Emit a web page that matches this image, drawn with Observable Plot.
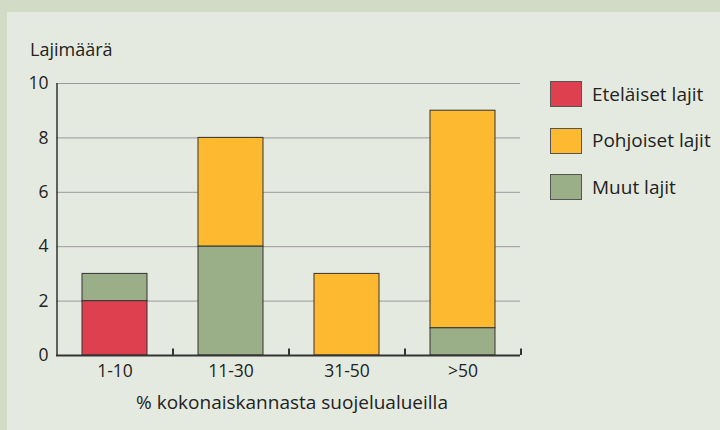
<!DOCTYPE html>
<html><head><meta charset="utf-8">
<script src="https://cdn.jsdelivr.net/npm/d3@7"></script>
<script src="https://cdn.jsdelivr.net/npm/@observablehq/plot@0.6"></script>
<style>
body{margin:0;}
#wrap{position:relative;width:720px;height:430px;background:#d2dbc6;overflow:hidden;font-family:"Open Sans",sans-serif;color:#222;}
#panel{position:absolute;left:7px;top:12px;right:0;bottom:0;background:#e5eae0;}
#chart{position:absolute;left:0;top:0;}
#chart svg text{font-size:17.5px !important;fill:#222;}
.t{position:absolute;white-space:nowrap;line-height:1;}
.lg{position:absolute;left:550px;display:flex;align-items:center;}
.sw{width:30px;height:24px;border:1px solid #555;box-sizing:content-box;}
.lt{position:absolute;left:42px;font-size:19px;line-height:1;white-space:nowrap;}
</style></head>
<body>
<div id="wrap"><div id="panel"></div><div id="chart"></div>
<div class="t" id="ytitle" style="left:30px;top:40px;font-size:18px;">Lajimäärä</div>
<div class="t" id="xtitle" style="left:0;width:584px;text-align:center;top:393px;font-size:19px;">% kokonaiskannasta suojelualueilla</div>
<div id="legend"></div>
</div>
<script>
const categories = ["1-10", "11-30", "31-50", ">50"];
const seriesNames = ["Eteläiset lajit", "Pohjoiset lajit", "Muut lajit"];
const etelaiset = [2, 0, 0, 0];
const pohjoiset = [0, 4, 3, 8];
const muut = [1, 4, 0, 1];
const yTicks = [0, 2, 4, 6, 8, 10];
const colors = ["#de4050", "#fdb92f", "#9aae87"];
const stackOrder = ["Eteläiset lajit", "Muut lajit", "Pohjoiset lajit"];

const values = [etelaiset, pohjoiset, muut];
const rows = [];
seriesNames.forEach((s, si) => categories.forEach((c, ci) => {
  if (values[si][ci] > 0) rows.push({cat: c, series: s, value: values[si][ci]});
}));

const W = 720, H = 430, mL = 56, mR = 200, mT = 83, mB = 75;
const xOpts = {type: "band", domain: categories, range: [mL, W - mR], paddingInner: 0.44, paddingOuter: 0.22};
const xs = Plot.scale({x: xOpts});
const step = xs.step;

const chart = Plot.plot({
  width: W, height: H,
  marginLeft: mL, marginRight: mR, marginTop: mT, marginBottom: mB,
  style: {background: "transparent", fontFamily: "'Open Sans', sans-serif", fontSize: "17.5px", color: "#222"},
  x: {domain: categories, paddingInner: 0.44, paddingOuter: 0.22, label: null},
  y: {domain: [0, 10], ticks: yTicks, label: null},
  color: {domain: seriesNames, range: colors},
  marks: [
    Plot.gridY(yTicks.filter(d => d > 0), {stroke: "#9a9a9a", strokeOpacity: 1, strokeWidth: 1}),
    Plot.barY(rows, Plot.stackY({order: stackOrder}, {x: "cat", y: "value", fill: "series", z: "series", stroke: "#333", strokeWidth: 1})),
    Plot.ruleY([0], {stroke: "#333", strokeWidth: 2}),
    Plot.ruleX([categories[0]], {x: d => d, dx: -step / 2, y1: 0, y2: 10, stroke: "#333", strokeWidth: 1.5}),
    Plot.ruleX(categories, {x: d => d, dx: step / 2, y1: 0, y2: 0.24, stroke: "#333", strokeWidth: 2}),
    Plot.axisY({ticks: yTicks, tickSize: 0, tickPadding: 8, label: null}),
    Plot.axisX({tickSize: 0, tickPadding: 9, label: null})
  ]
});
document.getElementById("chart").appendChild(chart);

const legend = document.getElementById("legend");
seriesNames.forEach((s, i) => {
  const item = document.createElement("div");
  item.className = "lg";
  item.style.top = (81 + i * 46.5) + "px";
  const sw = document.createElement("div");
  sw.className = "sw";
  sw.style.background = colors[i];
  const lt = document.createElement("div");
  lt.className = "lt";
  lt.textContent = s;
  item.appendChild(sw);
  item.appendChild(lt);
  legend.appendChild(item);
});
</script>
</body></html>
